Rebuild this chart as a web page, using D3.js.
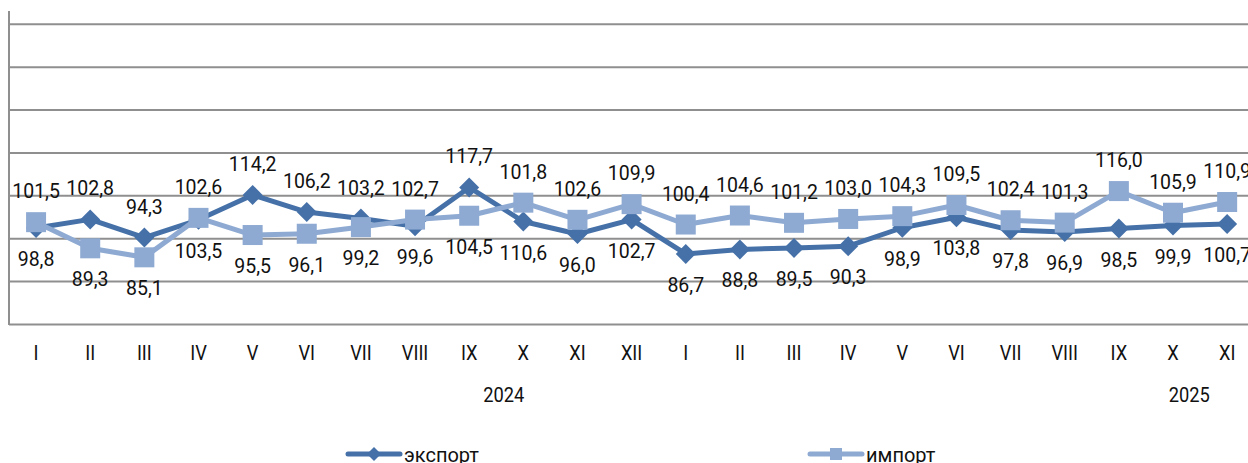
<!DOCTYPE html>
<html>
<head>
<meta charset="utf-8">
<script src="https://cdn.jsdelivr.net/npm/d3@7"></script>
<style>
  body { margin: 0; background: #fff; }
  text { font-family: Roboto, "Noto Sans", sans-serif; }
</style>
</head>
<body>
<div id="chart"></div>
<script>
// months of 2024 and 2025 (I..XI)
const months = ["I","II","III","IV","V","VI","VII","VIII","IX","X","XI","XII",
                "I","II","III","IV","V","VI","VII","VIII","IX","X","XI"];
const years = ["2024", "2025"];

const exportVals = [98.8, 102.8, 94.3, 102.6, 114.2, 106.2, 103.2, 99.6, 117.7, 101.8, 96.0, 102.7,
                    86.7, 88.8, 89.5, 90.3, 98.9, 103.8, 97.8, 96.9, 98.5, 99.9, 100.7];
const importVals = [101.5, 89.3, 85.1, 103.5, 95.5, 96.1, 99.2, 102.7, 104.5, 110.6, 102.6, 109.9,
                    100.4, 104.6, 101.2, 103.0, 104.3, 109.5, 102.4, 101.3, 116.0, 105.9, 110.9];

// which series' label sits in the upper row ("e" export / "i" import)
const labelOnTop = ["i","e","e","e","e","e","e","i","e","e","i","i",
                    "i","i","i","i","i","i","i","i","i","i","i"];

const gridVals = [54, 74, 94, 114, 134, 154, 174, 194];

const W = 1248, H = 463;
const left = 9, step = 54.14;
const yearAt = [8.64, 21.3]; // category index the year label is centred on

const cExport = "#4571a8", cImport = "#8eaad2", cGrid = "#8f8f8f";

const svg = d3.select("#chart").append("svg")
    .attr("width", W).attr("height", H);

svg.append("rect").attr("width", W).attr("height", H).attr("fill", "#fff");

const x = d3.scaleBand()
    .domain(d3.range(months.length))
    .range([left, left + step * months.length]);
const cx = i => x(i) + x.bandwidth() / 2;
const xi = d3.scaleLinear().domain([0, 1]).range([cx(0), cx(1)]);

const y = d3.scaleLinear().domain([54, 200]).range([324, 11]);

// gridlines
const grid = svg.append("g")
    .attr("transform", "translate(" + left + ",0)")
    .call(d3.axisLeft(y).tickValues(gridVals).tickSize(-(W - left)).tickFormat(""));
grid.select(".domain").remove();
grid.selectAll("line").attr("stroke", cGrid).attr("stroke-width", 2);

// vertical axis
svg.append("line")
    .attr("x1", left).attr("x2", left)
    .attr("y1", y(200)).attr("y2", y(54) + 1)
    .attr("stroke", cGrid).attr("stroke-width", 2);

// category labels
const xAxis = svg.append("g").attr("transform", "translate(0,360)")
    .call(d3.axisBottom(x).tickSize(0).tickPadding(0).tickFormat(i => months[i]));
xAxis.select(".domain").remove();
xAxis.selectAll("text")
    .attr("dy", 0).attr("y", 0)
    .attr("font-size", 21).attr("fill", "#111")
    .attr("transform", "scale(0.87,1)")
    .attr("x", function () { return 0; });
// keep the condensed text centred on its tick
xAxis.selectAll(".tick").each(function () {
  d3.select(this).select("text").attr("transform", "scale(0.87,1)");
});

svg.selectAll(".year").data(years).join("text")
    .attr("class", "year")
    .attr("transform", (d, i) => "translate(" + xi(yearAt[i]) + ",402) scale(0.87,1)")
    .attr("text-anchor", "middle")
    .attr("font-size", 21).attr("fill", "#111")
    .text(d => d);

const line = d3.line().x((d, i) => cx(i)).y(d => y(d));

function diamond(sel, r) {
  return sel.attr("d", "M0," + (-r) + "L" + r + ",0L0," + r + "L" + (-r) + ",0Z");
}

// export series
svg.append("path").datum(exportVals)
    .attr("d", line).attr("fill", "none")
    .attr("stroke", cExport).attr("stroke-width", 5).attr("stroke-linejoin", "round");
svg.selectAll(".mE").data(exportVals).join("path")
    .attr("class", "mE")
    .attr("transform", (d, i) => "translate(" + cx(i) + "," + y(d) + ")")
    .call(diamond, 10)
    .attr("fill", cExport);

// import series
svg.append("path").datum(importVals)
    .attr("d", line).attr("fill", "none")
    .attr("stroke", cImport).attr("stroke-width", 5).attr("stroke-linejoin", "round");
svg.selectAll(".mI").data(importVals).join("rect")
    .attr("class", "mI")
    .attr("x", (d, i) => cx(i) - 10).attr("y", d => y(d) - 10)
    .attr("width", 20).attr("height", 20)
    .attr("fill", cImport);

// value labels: one row above both markers, one row below
const fmt = v => d3.format(".1f")(v).replace(".", ",");
const labels = [];
months.forEach((m, i) => {
  const e = exportVals[i], im = importVals[i];
  const topV = labelOnTop[i] === "e" ? e : im;
  const botV = labelOnTop[i] === "e" ? im : e;
  const yTop = Math.min(y(e), y(im)) - 31;
  const yBot = Math.max(y(e), y(im)) + 31;
  labels.push({ i, v: topV, y: yTop });
  labels.push({ i, v: botV, y: yBot });
});
svg.selectAll(".lab").data(labels).join("text")
    .attr("class", "lab")
    .attr("x", d => cx(d.i)).attr("y", d => d.y)
    .attr("dy", "0.36em")
    .attr("text-anchor", "middle")
    .attr("font-size", 19.5).attr("fill", "#111")
    .text(d => fmt(d.v));

// legend
const legend = [
  { name: "экспорт", color: cExport, x0: 348, shape: "d" },
  { name: "импорт", color: cImport, x0: 810, shape: "s" }
];
const lg = svg.selectAll(".lg").data(legend).join("g")
    .attr("class", "lg")
    .attr("transform", d => "translate(" + d.x0 + ",454)");
lg.append("line").attr("x1", 0).attr("x2", 52)
    .attr("stroke", d => d.color).attr("stroke-width", 5).attr("stroke-linecap", "round");
lg.filter(d => d.shape === "d").append("path")
    .attr("transform", "translate(26,0)").call(diamond, 7)
    .attr("fill", d => d.color);
lg.filter(d => d.shape === "s").append("rect")
    .attr("x", 20).attr("y", -6).attr("width", 12).attr("height", 12)
    .attr("fill", d => d.color);
lg.append("text").attr("x", 56).attr("y", 8)
    .attr("font-size", 20).attr("fill", "#111")
    .text(d => d.name);
</script>
</body>
</html>
